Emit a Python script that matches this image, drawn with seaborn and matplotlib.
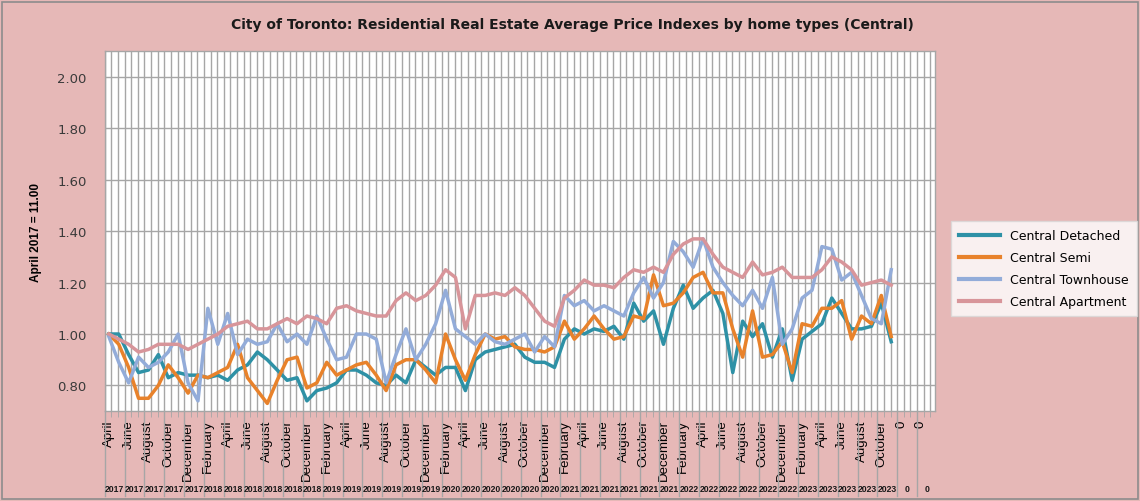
import numpy as np
import pandas as pd
import matplotlib
matplotlib.use("Agg")
import matplotlib.pyplot as plt
import matplotlib.ticker as ticker
import matplotlib.transforms as mtransforms
from matplotlib.patches import Rectangle
import seaborn as sns

# Data: monthly index, April 2017 = 1.00 (April 2017 ... November 2023)
detached = [1.00, 1.00, 0.92, 0.85, 0.86, 0.92, 0.83, 0.85, 0.84, 0.84,
            0.83, 0.84, 0.82, 0.86, 0.88, 0.93, 0.90, 0.86, 0.82, 0.83,
            0.74, 0.78, 0.79, 0.81, 0.86, 0.86, 0.84, 0.81, 0.80, 0.84,
            0.81, 0.90, 0.87, 0.84, 0.87, 0.87, 0.78, 0.90, 0.93, 0.94,
            0.95, 0.96, 0.91, 0.89, 0.89, 0.87, 0.98, 1.02, 1.00, 1.02,
            1.01, 1.03, 0.98, 1.12, 1.05, 1.09, 0.96, 1.10, 1.19, 1.10,
            1.14, 1.17, 1.08, 0.85, 1.05, 0.99, 1.04, 0.91, 1.02, 0.82,
            0.98, 1.01, 1.04, 1.14, 1.08, 1.02, 1.02, 1.03, 1.12, 0.97]
semi = [1.00, 0.96, 0.87, 0.75, 0.75, 0.80, 0.88, 0.83, 0.77, 0.84,
        0.83, 0.85, 0.87, 0.96, 0.83, 0.78, 0.73, 0.82, 0.90, 0.91,
        0.79, 0.81, 0.89, 0.84, 0.86, 0.88, 0.89, 0.84, 0.78, 0.88,
        0.90, 0.90, 0.86, 0.81, 1.00, 0.90, 0.82, 0.92, 1.00, 0.98,
        0.99, 0.95, 0.94, 0.94, 0.93, 0.95, 1.05, 0.98, 1.02, 1.07,
        1.02, 0.98, 0.99, 1.07, 1.06, 1.23, 1.11, 1.12, 1.16, 1.22,
        1.24, 1.16, 1.16, 1.02, 0.91, 1.09, 0.91, 0.92, 0.97, 0.85,
        1.04, 1.03, 1.10, 1.10, 1.13, 0.98, 1.07, 1.04, 1.15, 0.99]
townhouse = [0.99, 0.89, 0.81, 0.91, 0.87, 0.89, 0.93, 1.00, 0.81, 0.74,
             1.10, 0.96, 1.08, 0.92, 0.98, 0.96, 0.97, 1.04, 0.97, 1.00,
             0.96, 1.07, 0.98, 0.90, 0.91, 1.00, 1.00, 0.98, 0.81, 0.92,
             1.02, 0.90, 0.96, 1.04, 1.17, 1.02, 0.99, 0.96, 1.00, 0.97,
             0.96, 0.98, 1.00, 0.93, 0.99, 0.95, 1.15, 1.11, 1.13, 1.09,
             1.11, 1.09, 1.07, 1.16, 1.22, 1.14, 1.20, 1.36, 1.32, 1.26,
             1.37, 1.26, 1.20, 1.15, 1.11, 1.17, 1.10, 1.22, 0.96, 1.02,
             1.14, 1.17, 1.34, 1.33, 1.21, 1.24, 1.15, 1.06, 1.04, 1.25]
apartment = [1.00, 0.98, 0.96, 0.93, 0.94, 0.96, 0.96, 0.96, 0.94, 0.96,
             0.98, 1.00, 1.03, 1.04, 1.05, 1.02, 1.02, 1.04, 1.06, 1.04,
             1.07, 1.06, 1.04, 1.10, 1.11, 1.09, 1.08, 1.07, 1.07, 1.13,
             1.16, 1.13, 1.15, 1.19, 1.25, 1.22, 1.02, 1.15, 1.15, 1.16,
             1.15, 1.18, 1.15, 1.10, 1.05, 1.03, 1.14, 1.17, 1.21, 1.19,
             1.19, 1.18, 1.22, 1.25, 1.24, 1.26, 1.24, 1.31, 1.35, 1.37,
             1.37, 1.31, 1.26, 1.24, 1.22, 1.28, 1.23, 1.24, 1.26, 1.22,
             1.22, 1.22, 1.25, 1.30, 1.28, 1.25, 1.19, 1.20, 1.21, 1.19]

series_names = ["Central Detached", "Central Semi", "Central Townhouse", "Central Apartment"]
colors = ["#2E91A6", "#E8822B", "#93ACD9", "#D8959A"]

month_names = ["January", "February", "March", "April", "May", "June", "July",
               "August", "September", "October", "November", "December"]
n_months = len(detached)
n_cats = n_months + 4  # empty trailing categories shown as "0"
month_labels = [month_names[(3 + i) % 12] for i in range(n_months)] + ["0"] * 4
year_labels = [str(2017 + (3 + i) // 12) for i in range(n_months)] + ["0"] * 4

df = pd.DataFrame({
    "idx": list(range(n_months)) * 4,
    "value": detached + semi + townhouse + apartment,
    "series": np.repeat(series_names, n_months),
})

bg = "#E6B8B7"
grid_c = "#A6A6A6"

fig = plt.figure(figsize=(11.4, 5.02), dpi=100, facecolor=bg)
ax = fig.add_axes([0.092, 0.179, 0.728, 0.717])
ax.set_facecolor("white")

sns.lineplot(data=df, x="idx", y="value", hue="series", hue_order=series_names,
             palette=colors, linewidth=2.5, estimator=None, sort=False, ax=ax)

ax.set_xlim(-0.4, 83.4)
ax.set_ylim(0.70, 2.10)

# y axis
ax.yaxis.set_major_locator(ticker.MultipleLocator(0.2))
ax.yaxis.set_major_formatter(ticker.FormatStrFormatter("%.2f"))
ax.tick_params(axis="y", length=0, pad=13, labelsize=9.5, labelcolor="#3A3A3A")
ax.grid(axis="y", which="major", color=grid_c, linewidth=1.0)
ax.set_ylabel("April 2017 = 11.00", fontsize=8.5, fontweight="bold",
              family="Liberation Sans", labelpad=11)

# x axis: labels every second month, dense vertical grid
ax.xaxis.set_major_locator(ticker.FixedLocator(range(0, n_cats, 2)))
ax.set_xticklabels(month_labels[::2], rotation=90, fontsize=9.5, family="Liberation Sans")
ax.xaxis.set_minor_locator(ticker.MultipleLocator(2 / 3, offset=-0.4))
ax.grid(axis="x", which="minor", color=grid_c, linewidth=1.0)
ax.tick_params(axis="x", which="major", length=0, pad=6)
ax.tick_params(axis="x", which="minor", length=4, color=grid_c)
ax.set_xlabel("")

for s in ax.spines.values():
    s.set_color(grid_c)
    s.set_linewidth(1.0)

# category separators and year row under the axis
trans = mtransforms.blended_transform_factory(ax.transData, ax.transAxes)
for xs in np.arange(-0.4, 83.5, 2):
    ax.plot([xs, xs], [0, -0.235], transform=trans, color=grid_c,
            linewidth=1.0, clip_on=False)
for i in range(0, n_cats, 2):
    ax.text(i + 0.6, -0.215, year_labels[i], transform=trans, ha="center", va="center",
            fontsize=6.2, family="Liberation Sans", fontweight="bold", color="#1a1a1a")

fig.suptitle("City of Toronto: Residential Real Estate Average Price Indexes by home types (Central)",
             x=0.502, y=0.965, fontsize=10, fontweight="bold", color="#1a1a1a")

handles, labels = ax.get_legend_handles_labels()
ax.get_legend().remove()
leg = fig.legend(handles, labels, loc="upper left", bbox_to_anchor=(0.834, 0.558),
                 fontsize=9, frameon=True, fancybox=False, borderaxespad=0,
                 handlelength=3.3, labelspacing=0.72, borderpad=0.65)
leg.get_frame().set_edgecolor("#D9D9D9")
leg.get_frame().set_facecolor("white")
for line in leg.get_lines():
    line.set_linewidth(3)

fig.add_artist(Rectangle((0.002, 0.004), 0.996, 0.99, transform=fig.transFigure,
                         fill=False, edgecolor="#8C8C8C", linewidth=1.2))

fig.savefig("out.png", dpi=100, facecolor=bg)
